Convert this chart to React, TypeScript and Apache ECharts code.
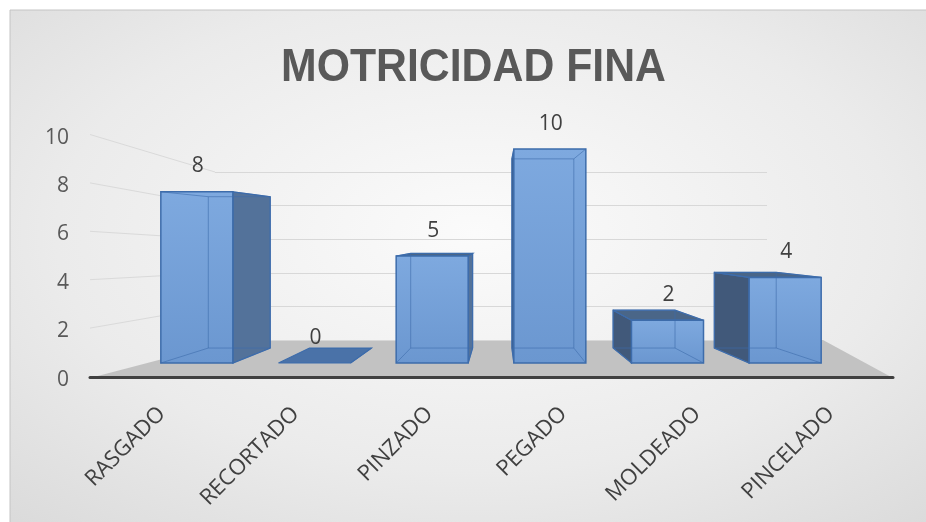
import React, { useEffect, useRef } from "react";
import * as echarts from "echarts";

const categories = ["RASGADO", "RECORTADO", "PINZADO", "PEGADO", "MOLDEADO", "PINCELADO"];
const values = [8, 0, 5, 10, 2, 4];
const yTicks = [0, 2, 4, 6, 8, 10];
const chartTitle = "MOTRICIDAD FINA";

// 3D look parameters (layout only)
const VP_X = 500;
const VP_Y = 234;
const DEPTH_SX = 0.86;
const DEPTH_SY = 0.884;
const WALL_LEFT = 215;
const WALL_RIGHT = 767;
const WALL_TOP = 172;
const WALL_BOTTOM = 340;

const FONT = "'Open Sans', 'Noto Sans', sans-serif";

export default function App() {
  const ref = useRef<HTMLDivElement>(null);

  useEffect(() => {
    const chart = echarts.init(ref.current!, null, { renderer: "svg" });
    const bx = (x: number) => VP_X + DEPTH_SX * (x - VP_X);
    const by = (y: number) => VP_Y + DEPTH_SY * (y - VP_Y);

    const option: any = {
      animation: false,
      graphic: {
        elements: [
          { type: "rect", z: -20, shape: { x: 0, y: 0, width: 926, height: 522 }, style: { fill: "#ffffff" } },
          {
            type: "rect",
            z: -19,
            shape: { x: 10, y: 10, width: 930, height: 530 },
            style: {
              fill: new echarts.graphic.RadialGradient(0.5, 0.42, 1.0, [
                { offset: 0, color: "#fbfbfb" },
                { offset: 0.45, color: "#ebebeb" },
                { offset: 1, color: "#cccccc" },
              ]),
              stroke: "#c4c4c4",
              lineWidth: 1,
            },
          },
          {
            type: "polygon",
            z: -18,
            shape: { points: [[90, 378], [893, 378], [823, 340], [235, 340]] },
            style: { fill: "#c2c2c2" },
          },
          {
            type: "text",
            z: 10,
            x: 473.5,
            y: 65,
            scaleX: 0.91,
            style: {
              text: chartTitle,
              fill: "#595959",
              fontSize: 47,
              fontWeight: "bold",
              fontFamily: "'Liberation Sans', Arial, sans-serif",
              align: "center",
              verticalAlign: "middle",
            },
          },
        ],
      },
      grid: [
        { left: 90, right: 33, top: 135.5, bottom: 144.5 },
        { left: 93, right: 30, top: 135.5, bottom: 144.5 },
        { left: 138, right: 82, top: 149, bottom: 159 },
        { left: WALL_LEFT, right: 926 - WALL_RIGHT, top: WALL_TOP, bottom: 522 - WALL_BOTTOM },
      ],
      xAxis: [
        {
          gridIndex: 0,
          type: "category",
          data: categories,
          axisLine: { show: true, lineStyle: { color: "#404040", width: 3 } },
          axisTick: { show: false },
          axisLabel: { show: false },
        },
        {
          gridIndex: 1,
          type: "category",
          data: categories,
          axisLine: { show: false },
          axisTick: { show: false },
          axisLabel: { show: true, rotate: 45, interval: 0, margin: 31, fontSize: 22, color: "#404040", fontFamily: FONT },
        },
        { gridIndex: 2, type: "category", data: categories, show: false },
        { gridIndex: 3, type: "value", min: 0, max: 1, show: false, splitLine: { show: false } },
      ],
      yAxis: [
        {
          gridIndex: 0,
          type: "value",
          min: 0,
          max: 10,
          interval: 2,
          axisLine: { show: false },
          axisTick: { show: false },
          splitLine: { show: false },
          axisLabel: { margin: 21, fontSize: 21, color: "#595959", fontFamily: FONT },
        },
        { gridIndex: 1, type: "value", show: false, splitLine: { show: false } },
        { gridIndex: 2, type: "value", min: 0, max: 10, show: false, splitLine: { show: false } },
        {
          gridIndex: 3,
          type: "value",
          min: 0,
          max: 10,
          interval: 2,
          axisLine: { show: false },
          axisTick: { show: false },
          axisLabel: { show: false },
          splitLine: { show: true, lineStyle: { color: "#d8d8d8", width: 1 } },
        },
      ],
      series: [
        {
          type: "custom",
          name: "wall",
          xAxisIndex: 0,
          yAxisIndex: 0,
          z: 1,
          silent: true,
          data: yTicks.slice(1).map((v) => [0, v]),
          renderItem: (params: any, api: any) => {
            const v = api.value(1);
            const front = api.coord([0, v]);
            const x0 = params.coordSys.x;
            const backY = WALL_BOTTOM - ((WALL_BOTTOM - WALL_TOP) * v) / 10;
            return {
              type: "line",
              shape: { x1: x0, y1: front[1] - 1, x2: WALL_LEFT, y2: backY },
              style: { stroke: "#dadada", lineWidth: 1 },
            };
          },
        },
        {
          type: "custom",
          name: "MOTRICIDAD FINA",
          xAxisIndex: 2,
          yAxisIndex: 2,
          z: 3,
          encode: { x: 0, y: 1 },
          data: values.map((v, i) => [i, v]),
          renderItem: (params: any, api: any) => {
            const i = api.value(0);
            const v = api.value(1);
            const top = api.coord([i, v]);
            const base = api.coord([i, 0]);
            const bw = api.size([1, 0])[0] * 0.612;
            const cx = top[0];
            const xl = cx - bw / 2;
            const xr = cx + bw / 2;
            const yt = top[1];
            const yb = base[1];
            const stroke = "#3d6cab";
            const children: any[] = [];
            if (cx < VP_X) {
              children.push({
                type: "polygon",
                shape: { points: [[xr, yt], [bx(xr), by(yt)], [bx(xr), by(yb)], [xr, yb]] },
                style: { fill: "#53729a", stroke, lineWidth: 1.2 },
              });
            } else {
              children.push({
                type: "polygon",
                shape: { points: [[xl, yt], [bx(xl), by(yt)], [bx(xl), by(yb)], [xl, yb]] },
                style: { fill: "#41597a", stroke, lineWidth: 1.2 },
              });
            }
            if (yt > VP_Y) {
              children.push({
                type: "polygon",
                shape: { points: [[xl, yt], [xr, yt], [bx(xr), by(yt)], [bx(xl), by(yt)]] },
                style: { fill: v === 0 ? "#4a72a8" : "#4a6688", stroke, lineWidth: 1.2 },
              });
            }
            if (yb - yt > 0.5) {
              children.push({
                type: "polygon",
                shape: { points: [[xl, yt], [xr, yt], [xr, yb], [xl, yb]] },
                style: {
                  fill: new echarts.graphic.LinearGradient(0, 0, 0, 1, [
                    { offset: 0, color: "#7ea9df" },
                    { offset: 1, color: "#6b97d0" },
                  ]),
                  stroke,
                  lineWidth: 1.5,
                },
              });
              const inner = "rgba(62,108,172,0.6)";
              children.push({
                type: "polyline",
                shape: {
                  points: [[bx(xl), by(yt)], [bx(xr), by(yt)], [bx(xr), by(yb)], [bx(xl), by(yb)], [bx(xl), by(yt)]],
                },
                style: { stroke: inner, lineWidth: 1, fill: null },
              });
              [[xl, yt], [xr, yt], [xr, yb], [xl, yb]].forEach((p) => {
                children.push({
                  type: "line",
                  shape: { x1: p[0], y1: p[1], x2: bx(p[0]), y2: by(p[1]) },
                  style: { stroke: inner, lineWidth: 1 },
                });
              });
            }
            children.push({
              type: "text",
              x: cx + 1,
              y: yt - 27.5,
              style: {
                text: String(v),
                fill: "#404040",
                fontSize: 21,
                fontFamily: FONT,
                align: "center",
                verticalAlign: "middle",
              },
            });
            return { type: "group", children };
          },
        },
      ],
    };
    chart.setOption(option);
    return () => chart.dispose();
  }, []);

  return <div ref={ref} style={{ position: "fixed", left: 0, top: 0, width: 926, height: 522 }} />;
}
